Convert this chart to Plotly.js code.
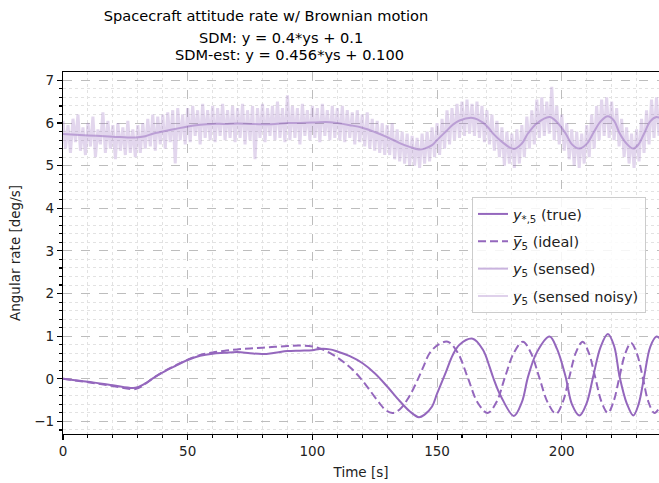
<!DOCTYPE html>
<html>
<head>
<meta charset="utf-8">
<script src="https://cdn.plot.ly/plotly-3.0.1.min.js"></script>
<style>html,body{margin:0;padding:0;background:#fff;}#chart{width:659px;height:483px;}</style>
</head>
<body>
<div id="chart"></div>
<script>
// ---- data ----
const tTrue = [0,10,20,29,33,36,40,45,50,55,60,65,70,75,80,85,90,95,100,103,107,110,115,120,125,130,135,139,142.7,145,148,150,153.5,156.3,159,164.3,168.4,171,172.5,175.6,180.8,184,186.5,190,195.1,198.1,201.5,204.1,207.1,210,212.7,215.6,218.5,221,223.2,226.1,228.7,230.8,233,235.5,238,240];
const yTrue = [0,-0.07,-0.15,-0.21,-0.11,0.01,0.15,0.30,0.44,0.54,0.59,0.61,0.63,0.60,0.58,0.61,0.65,0.66,0.67,0.70,0.69,0.64,0.53,0.37,0.13,-0.18,-0.52,-0.76,-0.90,-0.84,-0.65,-0.35,0.15,0.56,0.80,0.94,0.68,0.29,0.03,-0.41,-0.87,-0.55,0.05,0.62,0.99,0.70,0.06,-0.60,-0.86,-0.57,0.08,0.75,1.05,0.77,0.05,-0.58,-0.86,-0.60,0.03,0.75,0.99,0.90];
const ySensed = [5.74,5.71,5.68,5.66,5.69,5.75,5.80,5.86,5.92,5.96,5.98,5.98,5.99,5.98,5.97,5.98,6.00,6.00,6.01,6.02,6.02,6.00,5.95,5.89,5.79,5.67,5.53,5.44,5.38,5.40,5.48,5.60,5.80,5.96,6.06,6.12,6.01,5.86,5.75,5.58,5.39,5.52,5.76,5.99,6.14,6.02,5.76,5.50,5.40,5.51,5.77,6.04,6.16,6.05,5.76,5.51,5.40,5.50,5.75,6.04,6.14,6.10];

const tIdeal = [0,10,20,29,33,36,40,45,50,55,60,65,70,75,80,85,90,95,100,103,106,110,113,116.2,119.5,122.9,126.9,129.5,132.2,135,138.5,141.6,144.5,147,150.5,154.3,158.3,162.3,166.3,170.3,173.8,177.3,180.9,184.4,187.7,191,194.4,197.7,200.4,203,205.7,208.4,210.9,213.4,216,218.5,220.8,223.1,225.5,227.8,230.1,232.5,234.8,237.2,240];
const yIdeal = [0,-0.08,-0.17,-0.24,-0.12,0.01,0.16,0.31,0.45,0.56,0.62,0.66,0.69,0.71,0.73,0.75,0.77,0.78,0.76,0.71,0.64,0.50,0.37,0.21,0.0,-0.26,-0.57,-0.74,-0.80,-0.72,-0.45,-0.10,0.28,0.60,0.80,0.87,0.61,0.03,-0.56,-0.80,-0.55,0.05,0.62,0.87,0.60,0.03,-0.56,-0.82,-0.55,0.03,0.62,0.87,0.60,0.04,-0.55,-0.80,-0.53,0.03,0.60,0.84,0.60,0.03,-0.55,-0.80,-0.60];

// noisy sensed signal, one reading per second (t = 0..239)
const yNoisy = [
6.05,5.40,5.95,5.30,6.10,5.55,6.20,5.35,5.90,5.25,
6.00,5.45,6.15,5.20,5.85,5.50,6.25,5.30,6.05,5.40,
5.95,5.15,6.00,5.35,5.90,5.25,6.05,5.30,5.85,5.20,
5.95,5.30,6.00,5.40,6.10,5.45,6.20,5.35,6.15,5.50,
6.20,5.40,6.25,5.55,6.30,5.05,6.35,5.60,6.20,5.50,
6.35,5.55,6.40,5.70,6.30,5.50,6.45,5.65,6.30,5.60,
6.40,5.55,6.35,5.70,6.45,5.60,6.30,5.65,6.40,5.55,
6.35,5.65,6.45,5.50,6.30,5.60,6.40,5.15,6.35,5.65,
6.45,5.55,6.35,5.70,6.40,5.60,6.50,5.65,6.35,5.55,
6.65,5.60,6.40,5.65,6.35,5.50,6.45,5.70,6.30,5.60,
6.40,5.65,6.35,5.55,6.45,5.70,6.30,5.60,6.40,5.65,
6.35,5.60,6.40,5.55,6.30,5.65,6.25,5.50,6.30,5.55,
6.20,5.45,6.25,5.40,6.10,5.35,6.05,5.30,6.00,5.25,
5.95,5.25,6.00,5.15,5.85,5.10,5.80,5.05,5.75,5.00,
5.70,5.00,5.65,4.95,5.75,5.05,5.80,5.10,5.90,5.20,
6.00,5.25,6.10,5.40,6.30,5.50,6.35,5.60,6.45,5.65,
6.50,5.70,6.55,5.75,6.45,5.70,6.50,5.65,6.40,5.55,
6.30,5.50,6.20,5.35,6.05,5.20,5.90,5.00,5.80,5.05,
5.75,4.95,5.85,5.05,5.95,5.20,6.15,5.40,6.30,5.50,
6.55,5.65,6.60,5.70,6.50,5.75,6.85,5.60,6.40,5.50,
6.20,5.35,6.00,5.15,5.85,5.00,5.80,4.95,5.75,5.05,
5.95,5.20,6.20,5.40,6.40,5.60,6.55,5.70,6.60,5.65,
6.50,5.60,6.35,5.45,6.10,5.20,5.90,5.05,5.75,4.95,
5.85,5.10,6.10,5.30,6.30,5.50,6.55,5.65,6.60,5.70
];
const tNoisy = yNoisy.map((_, i) => i);

const titleLines = ["Spacecraft attitude rate w/ Brownian motion", "SDM: y = 0.4*ys + 0.1", "SDM-est: y = 0.456*ys + 0.100"];
const legendNames = ["<i>y</i><sub>*,5</sub> (true)", "<i>y̅</i><sub>5</sub> (ideal)", "<i>y</i><sub>5</sub> (sensed)", "<i>y</i><sub>5</sub> (sensed noisy)"];
const xTitle = "Time [s]";
const yTitle = "Angular rate [deg/s]";

// ---- drawing ----
const C = "#9467bd";
const FONT = "DejaVu Sans, sans-serif";

const traces = [
  {x: tNoisy, y: yNoisy, mode: "lines", showlegend: false, line: {color: "rgba(148,103,189,0.27)", width: 3}},
  {x: [null], y: [null], mode: "lines", name: legendNames[3], legendgroup: "g4", line: {color: "rgba(148,103,189,0.3)", width: 2}, legendrank: 4},
  {x: tTrue, y: ySensed, mode: "lines", name: legendNames[2], legendgroup: "g3", line: {color: "rgba(148,103,189,0.5)", width: 2, shape: "spline"}, legendrank: 3},
  {x: tIdeal, y: yIdeal, mode: "lines", name: legendNames[1], legendgroup: "g2", line: {color: C, width: 2, dash: "8px,4px", shape: "spline"}, legendrank: 2},
  {x: tTrue, y: yTrue, mode: "lines", name: legendNames[0], legendgroup: "g1", line: {color: C, width: 2, shape: "spline"}, legendrank: 1}
];

const L = 63, R = 0, T = 72, B = 49, W = 659, H = 483;
const pw = W - L - R, ph = H - T - B;
const px = v => (v - L) / pw;
const py = v => (H - B - v) / ph;
const TF = 14.6;

const layout = {
  width: W, height: H,
  margin: {l: L, r: R, t: T, b: B, pad: 0},
  paper_bgcolor: "#fff", plot_bgcolor: "#fff",
  font: {family: FONT, size: 13.5, color: "#000"},
  showlegend: true,
  title: {text: titleLines[0], x: 266 / W, xref: "container", xanchor: "center", y: 1 - 16 / H, yref: "container", yanchor: "middle", font: {size: TF, family: FONT, color: "#000"}},
  annotations: [
    {text: titleLines[1], xref: "paper", yref: "paper", x: px(281), y: py(38), xanchor: "center", yanchor: "middle", showarrow: false, font: {size: TF, family: FONT, color: "#000"}},
    {text: titleLines[2], xref: "paper", yref: "paper", x: px(289), y: py(55), xanchor: "center", yanchor: "middle", showarrow: false, font: {size: TF, family: FONT, color: "#000"}}
  ],
  xaxis: {
    range: [0, 239], dtick: 50, tick0: 0,
    showline: true, linecolor: "#000", linewidth: 1.2, mirror: true,
    ticks: "outside", ticklen: 5, tickwidth: 1.1, tickcolor: "#000",
    showgrid: true, gridcolor: "#bdbdbd", griddash: "dash", gridwidth: 1,
    zeroline: false,
    minor: {dtick: 10, ticks: "outside", ticklen: 3, tickcolor: "#000", showgrid: true, gridcolor: "#e2e2e2", griddash: "dot", gridwidth: 1},
    tickfont: {size: 13.5, family: FONT, color: "#222"},
    title: {text: xTitle, font: {size: 13.5, family: FONT, color: "#222"}, standoff: 9}
  },
  yaxis: {
    range: [-1.295, 7.197], dtick: 1, tick0: 0,
    showline: true, linecolor: "#000", linewidth: 1.2, mirror: true,
    ticks: "outside", ticklen: 5, tickwidth: 1.1, tickcolor: "#000",
    showgrid: true, gridcolor: "#bdbdbd", griddash: "dash", gridwidth: 1,
    zeroline: false,
    minor: {dtick: 0.2, ticks: "outside", ticklen: 3, tickcolor: "#000", showgrid: true, gridcolor: "#e2e2e2", griddash: "dot", gridwidth: 1},
    tickfont: {size: 13.5, family: FONT, color: "#222"},
    title: {text: yTitle, font: {size: 13.5, family: FONT, color: "#222"}, standoff: 10}
  },
  legend: {
    x: px(472), y: py(197), xanchor: "left", yanchor: "top",
    bgcolor: "rgba(255,255,255,0.85)", bordercolor: "#cccccc", borderwidth: 1,
    font: {size: 14.5, family: FONT, color: "#222"},
    itemwidth: 30, tracegroupgap: 5.5
  }
};

Plotly.newPlot("chart", traces, layout, {displayModeBar: false, staticPlot: true});
</script>
</body>
</html>
